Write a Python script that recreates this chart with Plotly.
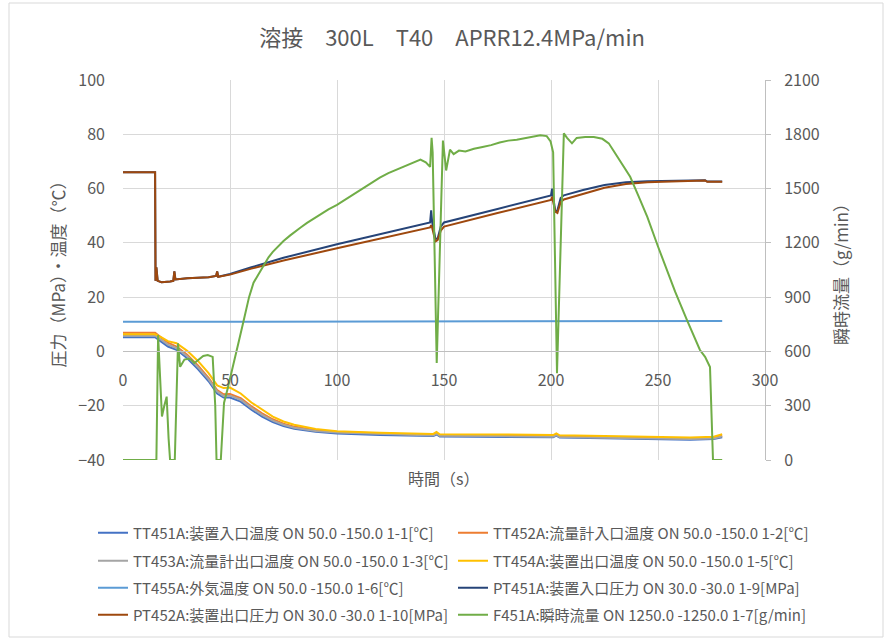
import plotly.graph_objects as go

# ---- temperature channels (℃), left axis ----
t_temp = [0, 15, 18, 21, 25, 30, 35, 40, 44, 47, 50, 55, 60, 65, 70, 75, 80, 90, 100, 120,
          145, 146.5, 148, 175, 201, 202.5, 204, 225, 250, 265, 276, 280]
tt451a = [5.2, 5.2, 3.5, 1.8, 0.6, -2.5, -6.5, -11.0, -15.5, -17.0, -17.0, -18.5, -21.5, -24.0,
          -26.0, -27.5, -28.5, -29.6, -30.2, -30.8, -31.2, -30.6, -31.3, -31.4, -31.6, -31.0,
          -31.7, -32.0, -32.4, -32.5, -32.3, -31.6]
tt452a = [6.9, 6.9, 5.0, 3.2, 1.8, -1.2, -5.2, -9.7, -14.2, -15.8, -15.7, -17.2, -20.2, -22.8,
          -25.0, -26.6, -27.7, -29.0, -29.7, -30.3, -30.8, -30.1, -30.9, -31.0, -31.2, -30.6,
          -31.3, -31.6, -32.0, -32.1, -31.9, -31.1]
tt453a = [5.8, 5.8, 4.2, 2.5, 1.2, -1.8, -5.8, -10.3, -14.8, -16.4, -16.3, -17.8, -20.8, -23.4,
          -25.5, -27.0, -28.1, -29.3, -29.9, -30.5, -31.0, -30.3, -31.1, -31.2, -31.4, -30.8,
          -31.5, -31.8, -32.2, -32.3, -32.1, -31.3]
tt454a = [6.3, 6.3, 5.2, 3.8, 3.0, 0.2, -3.5, -8.0, -12.5, -13.5, -13.3, -15.5, -18.8, -21.5,
          -24.0, -25.8, -27.0, -28.6, -29.4, -30.0, -30.4, -29.7, -30.5, -30.6, -30.8, -30.2,
          -30.9, -31.2, -31.6, -31.7, -31.4, -30.5]

t_amb = [0, 100, 200, 280]
tt455a = [10.9, 11.0, 11.1, 11.2]

# ---- pressure channels (MPa), left axis ----
t_press = [0, 15, 15.2, 15.6, 16.2, 18, 22, 23.5, 24, 24.5, 30, 40, 43.5, 44, 44.5, 50, 60, 75,
           100, 125, 143.5, 144, 144.5, 146, 147, 148.5, 150, 175, 200, 200.5, 201, 202, 203,
           204.5, 206, 215, 225, 235, 245, 260, 272, 273, 280]
pt451a = [66, 66, 26, 31, 26, 25.5, 25.8, 26, 29.5, 26.5, 27, 27.3, 27.8, 29.5, 27.5, 28.5, 31,
          34.5, 39.5, 44, 47.5, 52, 47.5, 41.5, 41.5, 46, 47.5, 52.5, 57.5, 60, 57.5, 51.5, 52,
          56.5, 57.5, 59.5, 61.3, 62.3, 62.7, 62.9, 63.1, 62.6, 62.6]
pt452a = [66, 66, 26, 31, 26, 25.5, 25.8, 26, 29.5, 26.5, 27, 27.3, 27.8, 29.5, 27.5, 28.3, 30.5,
          33.5, 38.0, 42.5, 45.7, 46.5, 45.5, 40.5, 41, 44.5, 46, 51, 55.8, 57.0, 55.5, 51.5, 51,
          55, 56, 58, 60.3, 61.7, 62.3, 62.7, 63.0, 62.5, 62.5]

# ---- instantaneous flow (g/min), right axis ----
t_flow = [0, 15.6, 16.4, 17.3, 18.2, 19.3, 20.4, 21.3, 22.0, 24.2, 25.7, 26.7, 28.7, 30.5, 31.8,
          33.3, 35.7, 37.5, 39.6, 41.9, 43.1, 43.7, 45.7, 47.2, 48.8, 50.5, 51.9, 53.8, 55.8,
          58.9, 61, 63.6, 66, 68, 70, 72, 75, 78, 80, 83, 86, 90, 93, 96, 100, 104, 108, 112,
          116, 120, 124, 128, 132, 136, 139, 141.5, 143.5, 144.2, 144.7, 146.6, 149.5, 151,
          152.8, 154.5, 157, 160, 164, 168, 172, 176, 180, 184, 188, 192, 195, 198, 199.8, 201,
          202.8, 206, 207.5, 209.8, 212, 216, 220, 224, 227, 229, 233, 237, 241, 245, 250, 254,
          258, 263.5, 267, 269.6, 272, 274.3, 275.7, 280]
f451a = [0, 0, 690, 480, 240, 300, 350, 120, 0, 0, 645, 515, 555, 560, 555,
         535, 560, 575, 580, 570, 300, 0, 0, 315, 390, 470, 535, 640, 740,
         900, 980, 1035, 1080, 1120, 1150, 1175, 1210, 1240, 1260, 1285, 1310, 1340, 1360, 1385,
         1410, 1440, 1470, 1500, 1530, 1560, 1585, 1605, 1625, 1645, 1660, 1645, 1620, 1780,
         1700, 536, 1765, 1600, 1715, 1690, 1710, 1705, 1720, 1730, 1740, 1755, 1765, 1770,
         1780, 1790, 1795, 1790, 1760, 1700, 480, 1805, 1780, 1750, 1780, 1785, 1785, 1775,
         1750, 1713, 1640, 1565, 1455, 1343, 1180, 1050, 930, 774, 680, 608, 570, 514, 0, 0]

series = [
    ("TT451A:装置入口温度 ON 50.0 -150.0 1-1[℃]", t_temp, tt451a, "#4472C4", "legend", "y"),
    ("TT452A:流量計入口温度 ON 50.0 -150.0 1-2[℃]", t_temp, tt452a, "#ED7D31", "legend", "y"),
    ("TT453A:流量計出口温度 ON 50.0 -150.0 1-3[℃]", t_temp, tt453a, "#A5A5A5", "legend2", "y"),
    ("TT454A:装置出口温度 ON 50.0 -150.0 1-5[℃]", t_temp, tt454a, "#FFC000", "legend2", "y"),
    ("TT455A:外気温度 ON 50.0 -150.0 1-6[℃]", t_amb, tt455a, "#5B9BD5", "legend3", "y"),
    ("PT451A:装置入口圧力 ON 30.0 -30.0 1-9[MPa]", t_press, pt451a, "#264478", "legend3", "y"),
    ("PT452A:装置出口圧力 ON 30.0 -30.0 1-10[MPa]", t_press, pt452a, "#9E480E", "legend4", "y"),
    ("F451A:瞬時流量 ON 1250.0 -1250.0 1-7[g/min]", t_flow, f451a, "#70AD47", "legend4", "y2"),
]

W, H = 890, 639
L, R, T, B = 123, 765, 80, 460          # plot-area edges in pixels
FONT = "Noto Sans CJK JP"
TXT = "#595959"
GRID = "#d9d9d9"


def px_x(px):
    return (px - L) / (R - L)


def px_y(py):
    return (B - py) / (B - T)


fig = go.Figure()
for name, x, y, color, lg, ax in series:
    fig.add_trace(go.Scatter(x=x, y=y, name=name, mode="lines",
                             line=dict(color=color, width=2),
                             legend=lg, yaxis=ax))

# one legend per row so the two columns line up under the plot
legend_rows = {"legend": 533, "legend2": 561, "legend3": 588, "legend4": 615}
legend_style = {}
for key, row_px in legend_rows.items():
    legend_style[key] = dict(
        orientation="h", xref="paper", yref="paper",
        x=px_x(93), y=px_y(row_px), xanchor="left", yanchor="middle",
        entrywidth=315, entrywidthmode="pixels",
        font=dict(size=15, color=TXT, family=FONT),
        bgcolor="rgba(0,0,0,0)", borderwidth=0, itemwidth=30,
    )

fig.update_layout(
    width=W, height=H,
    margin=dict(l=L, r=W - R, t=T, b=H - B, pad=0, autoexpand=False),
    paper_bgcolor="white", plot_bgcolor="white",
    font=dict(family=FONT, color=TXT, size=16),
    title=dict(text="溶接　300L　T40　APRR12.4MPa/min",
               x=452 / W, y=1 - 38 / H, xanchor="center", yanchor="middle",
               font=dict(size=22, color=TXT, family=FONT)),
    xaxis=dict(range=[0, 300], tick0=0, dtick=50, showgrid=True, gridcolor=GRID,
               gridwidth=1, zeroline=False, anchor="free", position=40 / 140,
               showline=True, linecolor="#bfbfbf", linewidth=1, ticks="",
               tickfont=dict(size=16, color=TXT), ticklabelstandoff=14),
    yaxis=dict(range=[-40, 100], tick0=-40, dtick=20, showgrid=True, gridcolor=GRID,
               gridwidth=1, zeroline=False, showline=False, ticks="",
               tickfont=dict(size=16, color=TXT), ticklabelstandoff=17,
               title=dict(text="圧力（MPa）・温度（℃）", font=dict(size=17, color=TXT),
                          standoff=8)),
    yaxis2=dict(range=[0, 2100], tick0=0, dtick=300, overlaying="y", side="right",
                anchor="x", showgrid=False, zeroline=False, showline=True,
                linecolor="#bfbfbf", linewidth=1, ticks="outside", ticklen=5,
                tickcolor="#bfbfbf", tickfont=dict(size=16, color=TXT),
                ticklabelstandoff=10,
                title=dict(text="瞬時流量（g/min）", font=dict(size=17, color=TXT),
                           standoff=17)),
    annotations=[dict(text="時間（s）", x=0.5, y=px_y(478), xref="paper", yref="paper",
                      xanchor="center", yanchor="middle", showarrow=False,
                      font=dict(size=16, color=TXT, family=FONT))],
    shapes=[dict(type="rect", xref="paper", yref="paper",
                 x0=px_x(9), x1=px_x(883), y0=px_y(637), y1=px_y(3),
                 line=dict(color=GRID, width=1), fillcolor="rgba(0,0,0,0)", layer="below")],
    **legend_style,
)

fig.write_html("out.html")
